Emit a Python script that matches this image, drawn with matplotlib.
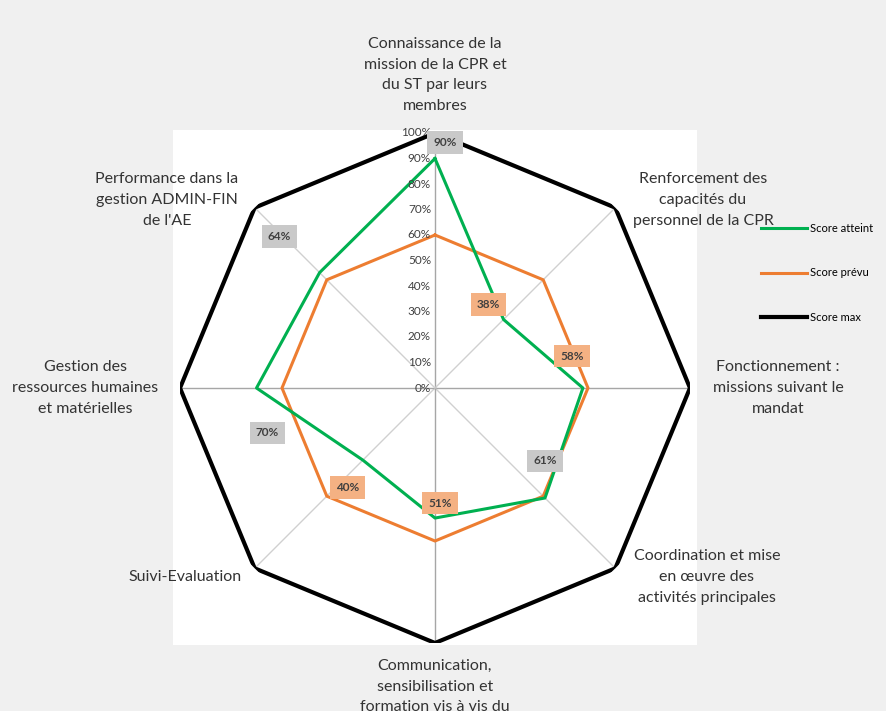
import numpy as np
import matplotlib
matplotlib.use("Agg")
import matplotlib.pyplot as plt

plt.rcParams['font.family'] = ['Lato', 'DejaVu Sans']

# categories, clockwise from the top
categories = [
    "Connaissance de la\nmission de la CPR et\ndu ST par leurs\nmembres",
    "Renforcement des\ncapacités du\npersonnel de la CPR",
    "Fonctionnement :\nmissions suivant le\nmandat",
    "Coordination et mise\nen œuvre des\nactivités principales",
    "Communication,\nsensibilisation et\nformation vis à vis du",
    "Suivi-Evaluation",
    "Gestion des\nressources humaines\net matérielles",
    "Performance dans la\ngestion ADMIN-FIN\nde l'AE",
]
score_atteint = [90, 38, 58, 61, 51, 40, 70, 64]
score_prevu = [60, 60, 60, 60, 60, 60, 60, 60]
score_max = [100, 100, 100, 100, 100, 100, 100, 100]
tick_values = [0, 10, 20, 30, 40, 50, 60, 70, 80, 90, 100]

W, H = 887, 711
fig = plt.figure(figsize=(W / 100, H / 100), dpi=100)
fig.patch.set_facecolor('#f0f0f0')

def fx(px):
    return px / W

def fy(py):
    return 1 - py / H

# white plot area
bg = fig.add_axes([fx(173), fy(645), fx(697) - fx(173), fy(130) - fy(645)], zorder=-5)
bg.set_facecolor('white')
bg.set_xticks([])
bg.set_yticks([])
for s in bg.spines.values():
    s.set_visible(False)

cx, cy, R = 435, 388, 255
ax = fig.add_axes([fx(cx - R), fy(cy + R), 2 * R / W, 2 * R / H], projection='polar')
ax.patch.set_visible(False)
ax.set_theta_offset(np.pi / 2)
ax.set_theta_direction(-1)
ax.set_ylim(0, 100)
ax.grid(False)
ax.set_xticks([])
ax.set_yticks([])
ax.spines['polar'].set_visible(False)

n = len(categories)
theta = np.arange(n) * 2 * np.pi / n

# spokes
for i, t in enumerate(theta):
    c = '#a6a6a6' if i % 2 == 0 else '#d0d0d0'
    ax.plot([t, t], [0, 100], color=c, lw=1, zorder=1)

def closed(v):
    return np.append(theta, theta[0]), np.append(v, v[0])

t_, v_ = closed(score_atteint)
ax.plot(t_, v_, color='#00b050', lw=2.2, zorder=4, label='Score atteint')
t_, v_ = closed(score_prevu)
ax.plot(t_, v_, color='#ed7d31', lw=2.2, zorder=3, label='Score prévu')
t_, v_ = closed(score_max)
ax.plot(t_, v_, color='black', lw=3, zorder=3, label='Score max', solid_joinstyle='miter')

# value axis labels
for v in tick_values:
    ax.annotate(f"{v}%", (0, v), xytext=(-4, 0), textcoords='offset pixels',
                ha='right', va='center', fontsize=8.5, color='#404040', zorder=5)

# data labels
label_offsets = [(10, 16), (-15, 15), (-11, 32), (0, 37), (5, 15), (-15, -27), (11, -45), (-40, 36)]
for i, v in enumerate(score_atteint):
    fc = '#f4b183' if v < score_prevu[i] else '#c9c9c9'
    ax.annotate(f"{v}%", (theta[i], v), xytext=label_offsets[i], textcoords='offset pixels',
                ha='center', va='center', fontsize=8.5, fontweight='bold', color='#404040', zorder=6,
                bbox=dict(boxstyle='square,pad=0.5', fc=fc, ec='none'))

# category labels
cat_pos = [(435, 75, 'center'), (703, 200, 'center'), (778, 388, 'center'), (707, 577, 'center'),
           (435, 659, 'top'), (185, 577, 'center'), (85, 388, 'center'), (167, 200, 'center')]
for lab, (px, py, va) in zip(categories, cat_pos):
    fig.text(fx(px), fy(py), lab, ha='center', va=va, fontsize=11.5, color='#333333',
             linespacing=1.6)

fig.legend(loc='center left', bbox_to_anchor=(fx(755), fy(273)), frameon=False,
           fontsize=8, handlelength=4.2, labelspacing=3.0, handletextpad=0.25, borderpad=0)

fig.savefig('out.png', dpi=100, facecolor=fig.get_facecolor())
